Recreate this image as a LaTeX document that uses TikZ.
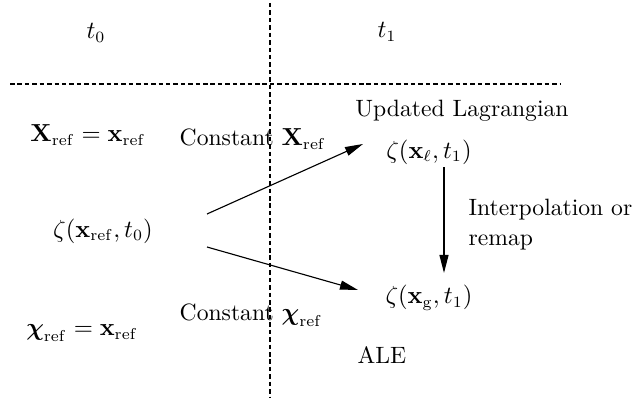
\documentclass[tikz,border=0pt]{standalone}
\usepackage{amsmath,amssymb}
\usetikzlibrary{arrows.meta}
\tikzset{
  px/.style={x=0.4444pt, y=-0.4444pt},
  divider/.style={line width=0.45pt, dash pattern=on 2pt off 1.3pt},
  flow/.style={line width=0.5pt, -{Triangle[length=8pt,width=4pt]}},
  lbl/.style={inner sep=1pt, font=\fontsize{10.5}{13.5}\selectfont},
}
\newcommand{\vX}{\mathbf{X}_{\mathrm{ref}}}
\newcommand{\vx}{\mathbf{x}_{\mathrm{ref}}}
\newcommand{\vchi}{\boldsymbol{\chi}_{\mathrm{ref}}}
\begin{document}
\begin{tikzpicture}[px]
\useasboundingbox (0,0) rectangle (635,399);
% time lines
\draw[divider] (10,84) -- (560,84);
\draw[divider] (270,3) -- (270,398);
\node[lbl] (tzero) at (96,33) {$t_0$};
\node[lbl] (tone) at (387,32) {$t_1$};
% left column
\node[lbl] (refx) at (88,135) {$\vX = \vx$};
\node[lbl] (zzero) at (103,231) {$\zeta(\vx, t_0)$};
\node[lbl] (refchi) at (82,333) {$\vchi = \vx$};
\node[lbl, anchor=west] (constx) at (177,139) {Constant $\vX$};
\node[lbl, anchor=west] (constchi) at (177,315) {Constant $\vchi$};
% right column
\node[lbl] (updlag) at (462,111) {Updated Lagrangian};
\node[lbl] (zell) at (429,152) {$\zeta(\mathbf{x}_{\ell}, t_1)$};
\node[lbl] (zg) at (429,298) {$\zeta(\mathbf{x}_{\mathrm{g}}, t_1)$};
\node[lbl] (ale) at (382,355) {ALE};
\node[lbl, anchor=north west, align=left] (remap) at (466,196) {Interpolation or\\remap};
% arrows
\coordinate (upstart) at (207,214);
\coordinate (upend) at (363,144);
\coordinate (downstart) at (207,247);
\coordinate (downend) at (358,290);
\draw[flow] (upstart) -- (upend);
\draw[flow] (downstart) -- (downend);
\draw[flow] (zell.south -| 444,0) -- (444,273);
\end{tikzpicture}
\end{document}
